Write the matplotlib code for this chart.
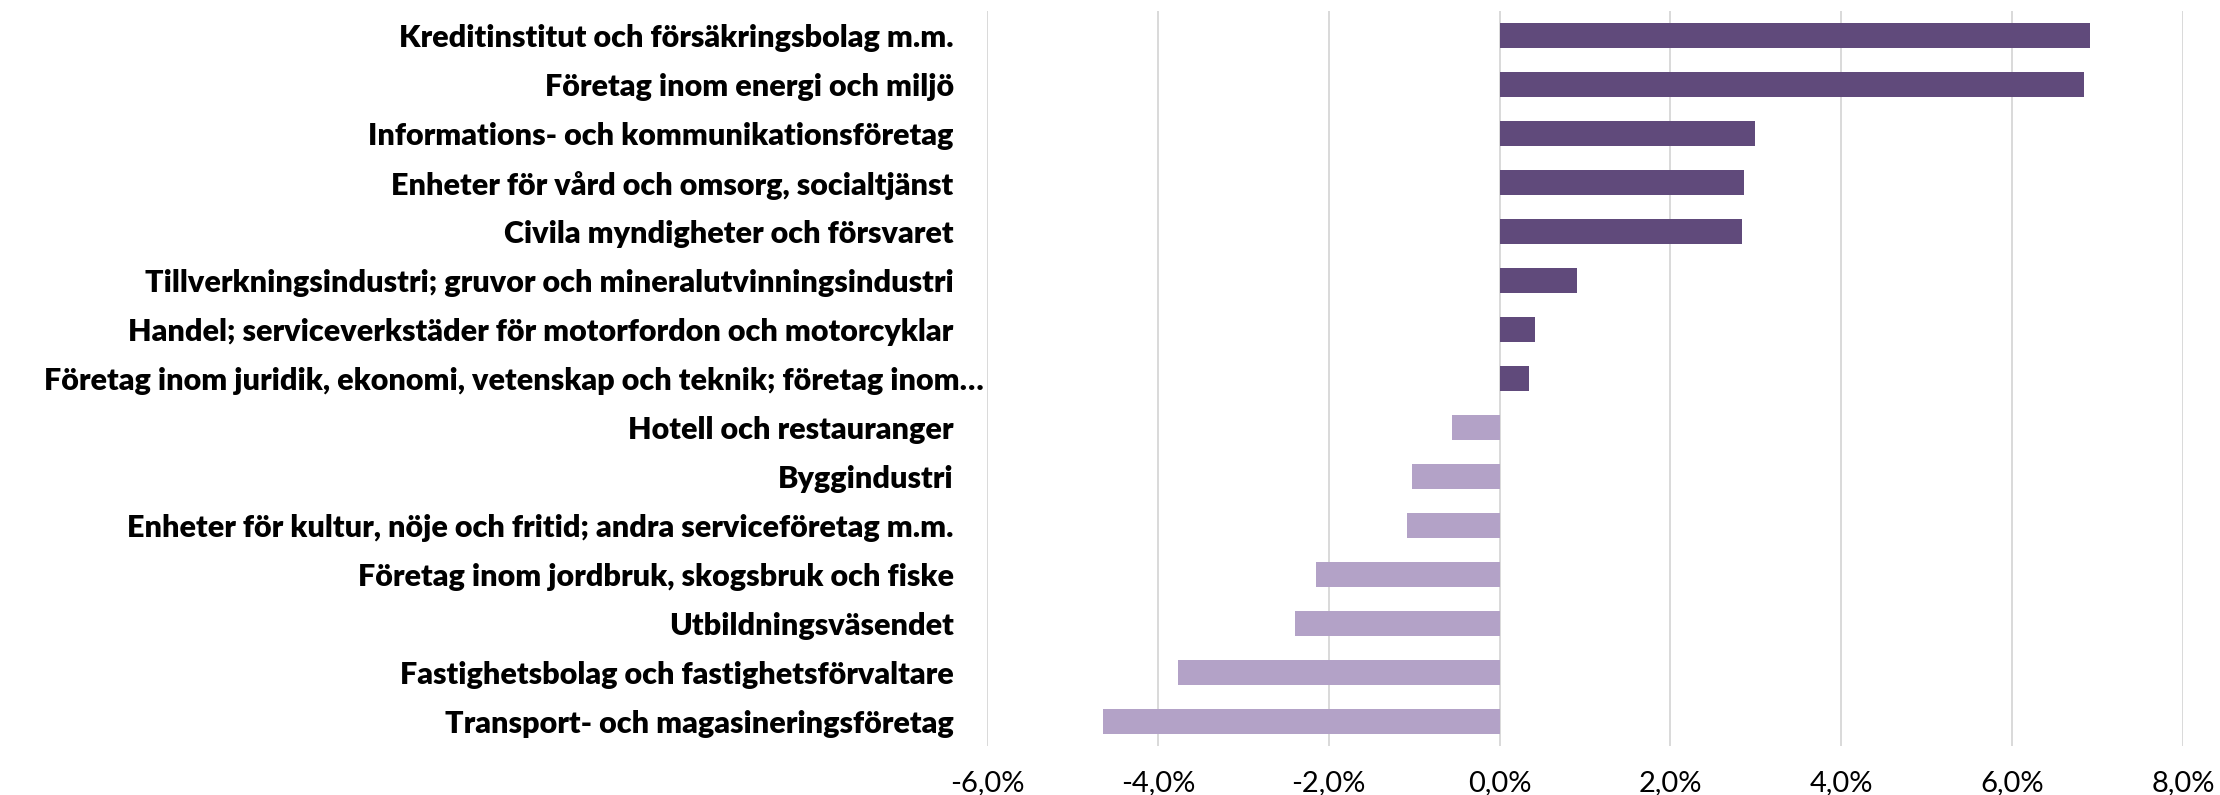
import numpy as np
import matplotlib
matplotlib.use("Agg")
import matplotlib.pyplot as plt
from matplotlib.ticker import FuncFormatter

# data, top to bottom as shown
categories = [
	"Kreditinstitut och försäkringsbolag m.m.",
	"Företag inom energi och miljö",
	"Informations- och kommunikationsföretag",
	"Enheter för vård och omsorg, socialtjänst",
	"Civila myndigheter och försvaret",
	"Tillverkningsindustri; gruvor och mineralutvinningsindustri",
	"Handel; serviceverkstäder för motorfordon och motorcyklar",
	"Företag inom juridik, ekonomi, vetenskap och teknik; företag inom…",
	"Hotell och restauranger",
	"Byggindustri",
	"Enheter för kultur, nöje och fritid; andra serviceföretag m.m.",
	"Företag inom jordbruk, skogsbruk och fiske",
	"Utbildningsväsendet",
	"Fastighetsbolag och fastighetsförvaltare",
	"Transport- och magasineringsföretag",
]
values = [6.91, 6.84, 2.99, 2.86, 2.84, 0.91, 0.41, 0.35,
		  -0.56, -1.02, -1.08, -2.15, -2.39, -3.76, -4.64]
x_ticks = [-6, -4, -2, 0, 2, 4, 6, 8]

POS_COLOR = "#604A7B"
NEG_COLOR = "#B3A2C7"

fig = plt.figure(figsize=(22.2, 7.95), dpi=100)
ax = fig.add_axes([0.4446, 0.0616, 0.5387, 0.9244])

y = np.arange(len(categories))
colors = [POS_COLOR if v >= 0 else NEG_COLOR for v in values]
ax.barh(y, values, height=0.5, color=colors, zorder=3)

ax.set_xlim(-6, 8)
ax.set_ylim(len(categories) - 0.5, -0.5)
ax.set_xticks(x_ticks)
ax.xaxis.set_major_formatter(FuncFormatter(lambda v, p: ("%.1f%%" % v).replace(".", ",")))
ax.grid(axis="x", color="#D9D9D9", linewidth=1.4, zorder=0)
for s in ax.spines.values():
	s.set_visible(False)

ax.set_yticks(y)
ax.set_yticklabels(categories, fontfamily="Lato", fontweight="heavy", fontsize=22)
ax.tick_params(axis="y", length=0, pad=24)
ax.tick_params(axis="x", length=0, pad=17, labelsize=21)
for lab in ax.get_xticklabels():
	lab.set_fontfamily("Lato")

# the truncated label sits closer to the axis
ax.yaxis.get_major_ticks()[7].set_pad(2)

fig.savefig("out.png", dpi=100)
